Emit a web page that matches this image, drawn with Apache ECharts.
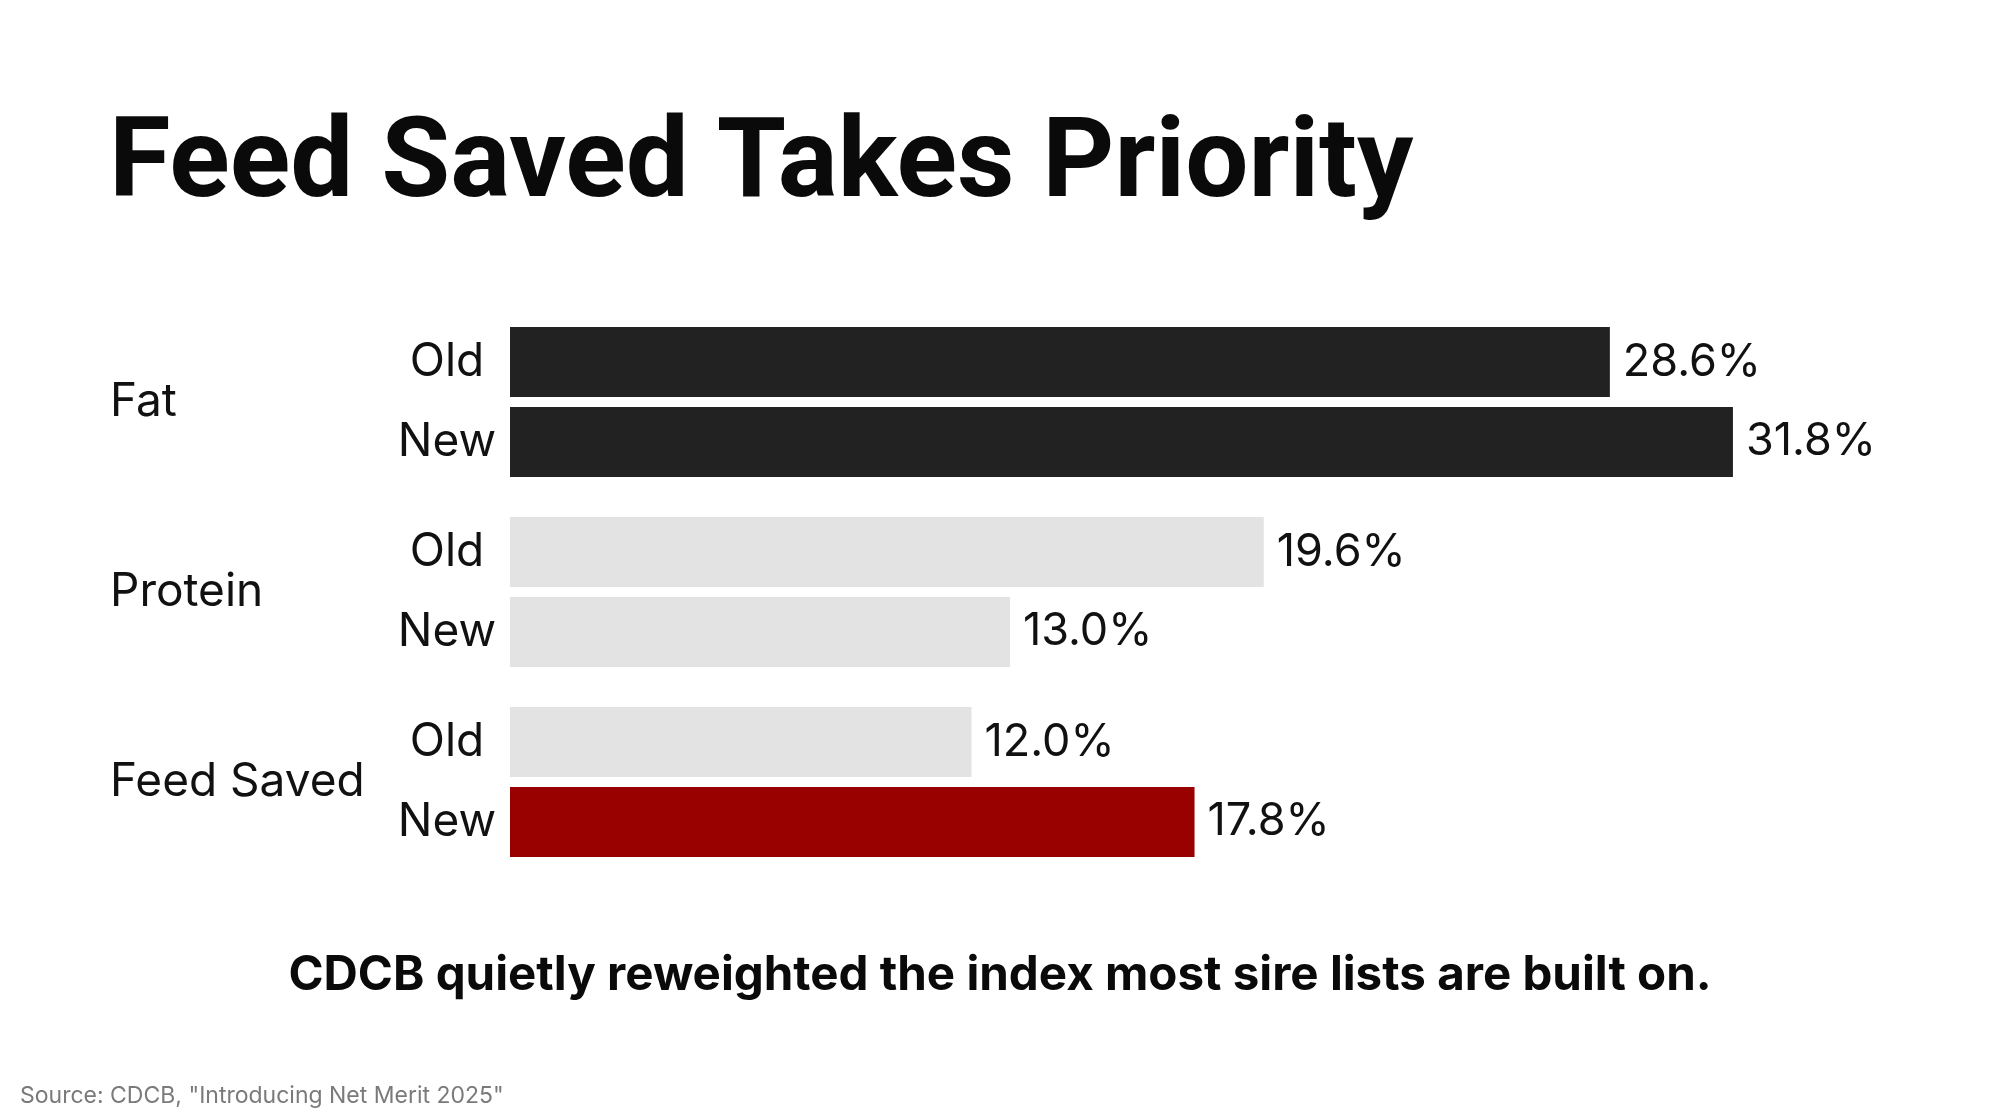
<!DOCTYPE html>
<html>
<head>
<meta charset="utf-8">
<script src="https://cdn.jsdelivr.net/npm/echarts@6/dist/echarts.min.js"></script>
<style>
  html, body { margin: 0; padding: 0; background: #ffffff; }
  #chart { width: 2000px; height: 1116px; }
</style>
</head>
<body>
<div id="chart"></div>
<script>
// 数据
var categories = ['Fat', 'Protein', 'Feed Saved'];
var seriesNames = ['Old', 'New'];
var oldValues = [28.6, 19.6, 12.0];
var newValues = [31.8, 13.0, 17.8];
// 每根柱子的颜色
var oldColors = ['#222222', '#e3e3e3', '#e3e3e3'];
var newColors = ['#222222', '#e3e3e3', '#990000'];

var FONT = 'Inter';

function withColors(values, colors) {
	return values.map(function (v, i) {
		return { value: v, itemStyle: { color: colors[i] } };
	});
}

var myChart = echarts.init(document.getElementById('chart'), null, { renderer: 'canvas' });

var valueLabel = {
	show: true,
	position: 'right',
	distance: 13,
	color: '#111111',
	fontFamily: FONT,
	fontSize: 45,
	formatter: function (p) {
		return p.value.toFixed(1) + '%';
	}
};

var option = {
	backgroundColor: '#ffffff',
	animation: false,
	title: [
		{
			text: 'Feed Saved Takes Priority',
			left: 104,
			top: 107,
			textStyle: {
				fontFamily: 'Roboto',
				fontWeight: 'bold',
				fontSize: 112,
				color: '#0a0a0a'
			}
		},
		{
			text: 'CDCB quietly reweighted the index most sire lists are built on.',
			left: 'center',
			top: 947,
			textStyle: {
				fontFamily: FONT,
				fontWeight: 700,
				fontSize: 47.5,
				color: '#0a0a0a'
			}
		},
		{
			text: 'Source: CDCB, "Introducing Net Merit 2025"',
			left: 15,
			top: 1080,
			textStyle: {
				fontFamily: FONT,
				fontWeight: 400,
				fontSize: 23,
				color: '#7a7a7a'
			}
		}
	],
	grid: {
		left: 510,
		right: 144,
		top: 307,
		height: 570
	},
	xAxis: {
		type: 'value',
		min: 0,
		max: 35,
		show: false
	},
	yAxis: [
		{
			// 分组名称
			type: 'category',
			data: categories,
			inverse: true,
			axisLine: { show: false },
			axisTick: { show: false },
			splitLine: { show: false },
			axisLabel: {
				align: 'left',
				margin: 400,
				color: '#111111',
				fontFamily: FONT,
				fontSize: 46
			}
		},
		{
			// Old / New 标签，两行对应两根柱子
			type: 'category',
			data: categories,
			inverse: true,
			position: 'left',
			axisLine: { show: false },
			axisTick: { show: false },
			splitLine: { show: false },
			axisLabel: {
				align: 'center',
				margin: 63,
				color: '#111111',
				fontFamily: FONT,
				fontSize: 46,
				lineHeight: 80,
				formatter: function () {
					return seriesNames.join('\n');
				}
			}
		}
	],
	series: [
		{
			name: seriesNames[0],
			type: 'bar',
			yAxisIndex: 0,
			barWidth: 70,
			barGap: '14%',
			data: withColors(oldValues, oldColors),
			label: valueLabel
		},
		{
			name: seriesNames[1],
			type: 'bar',
			yAxisIndex: 0,
			barWidth: 70,
			barGap: '14%',
			data: withColors(newValues, newColors),
			label: valueLabel
		}
	]
};

myChart.setOption(option);
</script>
</body>
</html>
